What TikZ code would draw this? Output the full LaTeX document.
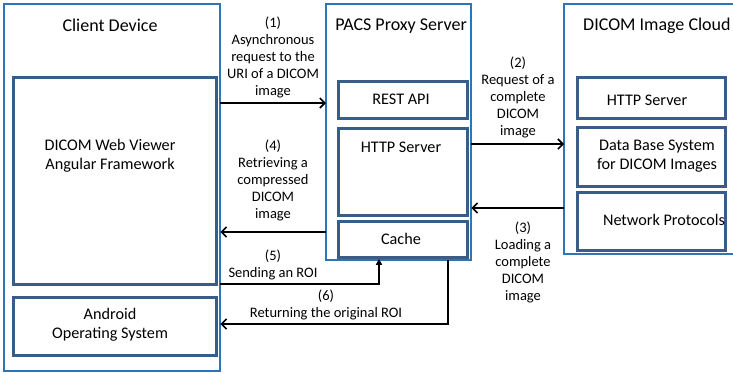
\documentclass[tikz,border=0pt]{standalone}
\usepackage{fontspec}
\setmainfont{Carlito}
\usetikzlibrary{arrows.meta}
\definecolor{outerblue}{RGB}{46,117,182}
\definecolor{innerblue}{RGB}{56,93,138}
\tikzset{
  outerbox/.style={draw=outerblue, line width=2.2pt, fill=white, inner sep=0pt},
  innerbox/.style={draw=innerblue, line width=2.8pt, fill=white, inner sep=0pt},
  title/.style={font=\fontsize{18}{21}\selectfont, inner sep=0pt},
  boxtext/.style={font=\fontsize{16.2}{19}\selectfont, align=center, inner sep=0pt},
  lbl/.style={font=\fontsize{14.5}{17}\selectfont, align=center, inner sep=0pt},
  arr/.style={line width=1.8pt, -{Straight Barb[length=5pt,width=10pt,line width=1.6pt]}},
}
\begin{document}
\begin{tikzpicture}[x=1pt,y=-1pt]
\useasboundingbox (0,0) rectangle (733,373);
\clip (0,0) rectangle (733,373);
% outer boxes
\draw[outerbox] (4,4) rectangle (220,371);
\node[inner sep=0pt, minimum width=216pt, minimum height=367pt, anchor=north west] (client) at (4,4) {};
\draw[outerbox] (326,4) rectangle (471,260);
\node[inner sep=0pt, minimum width=145pt, minimum height=256pt, anchor=north west] (pacs) at (326,4) {};
\draw[outerbox] (564,4) rectangle (750,254);
\node[inner sep=0pt, minimum width=186pt, minimum height=250pt, anchor=north west] (cloud) at (564,4) {};
% titles
\node[title] (clienttitle) at (110,25) {Client Device};
\node[title] (pacstitle) at (401,26) {PACS Proxy Server};
\node[title, anchor=west] (cloudtitle) at (583,26) {DICOM Image Cloud};
% client inner
\node[innerbox, minimum width=203pt, minimum height=207pt, anchor=north west] (viewer) at (12,76) {};
\node[boxtext] (viewertext) at (110,156) {DICOM Web Viewer\\Angular Framework};
\node[innerbox, minimum width=203pt, minimum height=58pt, anchor=north west] (android) at (12,296) {};
\node[boxtext] (androidtext) at (110,325) {Android\\Operating System};
% pacs inner
\node[innerbox, minimum width=129pt, minimum height=37pt, anchor=north west] (rest) at (337,80) {};
\node[boxtext] (resttext) at (401,99) {REST API};
\node[innerbox, minimum width=129pt, minimum height=87pt, anchor=north west] (http) at (337,127) {};
\node[boxtext] (httptext) at (401,147) {HTTP Server};
\node[innerbox, minimum width=129pt, minimum height=36pt, anchor=north west] (cache) at (337,220) {};
\node[boxtext] (cachetext) at (401,239) {Cache};
% cloud inner
\node[innerbox, minimum width=148pt, minimum height=41pt, anchor=north west] (chttp) at (576,76) {};
\node[boxtext] (chttptext) at (647,100) {HTTP Server};
\node[innerbox, minimum width=148pt, minimum height=59pt, anchor=north west] (db) at (576,126) {};
\node[boxtext] (dbtext) at (657,156) {Data Base System\\for DICOM Images};
\node[innerbox, minimum width=148pt, minimum height=58pt, anchor=north west] (net) at (576,191) {};
\node[boxtext] (nettext) at (664,220) {Network Protocols};
% connectors
\coordinate (c5) at (379,284);
\coordinate (c6) at (448,324);
\draw[arr] (client.east |- 0,103) -- (pacs.west |- 0,103);
\draw[arr] (pacs.east |- 0,144) -- (cloud.west |- 0,144);
\draw[arr] (cloud.west |- 0,208) -- (pacs.east |- 0,208);
\draw[arr] (pacs.west |- 0,232) -- (client.east |- 0,232);
\draw[line width=1.8pt, -{Triangle[length=6pt,width=6pt]}] (client.east |- c5) -- (c5) -- (cache.south -| c5);
\draw[line width=2.4pt, -{Straight Barb[length=5pt,width=10pt,line width=1.6pt]}] (pacs.south -| c6) -- (c6) -- (client.east |- c6);
% labels
\node[lbl] (l1) at (273,57) {(1)\\Asynchronous\\request to the\\URI of a DICOM\\image};
\node[lbl] (l2) at (518,97) {(2)\\Request of a\\complete\\DICOM\\image};
\node[lbl] (l3) at (523,262) {(3)\\Loading a\\complete\\DICOM\\image};
\node[lbl] (l4) at (273,180) {(4)\\Retrieving a\\compressed\\DICOM\\image};
\node[lbl] (l5) at (273,265) {(5)\\Sending an ROI};
\node[lbl] (l6) at (326,305) {(6)\\Returning the original ROI};
\end{tikzpicture}
\end{document}
